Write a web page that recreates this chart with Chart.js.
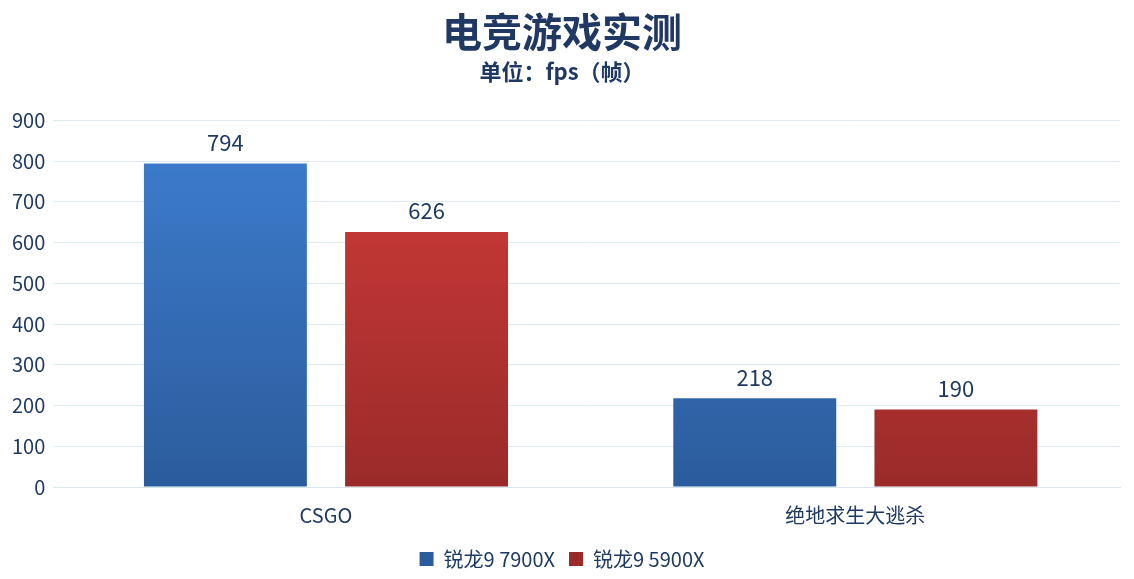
<!DOCTYPE html>
<html>
<head>
<meta charset="utf-8">
<script src="https://cdn.jsdelivr.net/npm/chart.js@4.4.0/dist/chart.umd.min.js"></script>
<style>
  html, body { margin: 0; padding: 0; background: #fff; }
  #wrap { width: 1134px; height: 579px; }
</style>
</head>
<body>
<div id="wrap"><canvas id="grafica"></canvas></div>
<script>
const categorias = ["CSGO", "绝地求生大逃杀"];
const series = ["锐龙9 7900X", "锐龙9 5900X"];
const valores7900 = [794, 218];
const valores5900 = [626, 190];

const fuente = "'Noto Sans CJK SC', 'Noto Sans', sans-serif";
const azulOscuro = "#1F3864";

function degradado(ctx, arriba, abajo) {
    const area = ctx.chart.chartArea;
    if (!area) return arriba;
    const g = ctx.chart.ctx.createLinearGradient(0, area.top, 0, area.bottom);
    g.addColorStop(0, arriba);
    g.addColorStop(1, abajo);
    return g;
}

const etiquetas = {
    id: "etiquetas",
    afterDatasetsDraw(chart) {
        const c = chart.ctx;
        c.save();
        c.font = "22px " + fuente;
        c.fillStyle = "#1F3A60";
        c.textAlign = "center";
        c.textBaseline = "bottom";
        chart.data.datasets.forEach((ds, i) => {
            chart.getDatasetMeta(i).data.forEach((bar, j) => {
                c.fillText(ds.data[j], bar.x, bar.y - 10);
            });
        });
        c.restore();
    }
};

new Chart(document.getElementById("grafica"), {
    type: "bar",
    data: {
        labels: categorias,
        datasets: [{
            label: series[0],
            data: valores7900,
            backgroundColor: ctx => degradado(ctx, "#3E7ED0", "#2B5C9C")
        }, {
            label: series[1],
            data: valores5900,
            backgroundColor: ctx => degradado(ctx, "#D23C3A", "#9A2B29")
        }]
    },
    options: {
        responsive: true,
        maintainAspectRatio: false,
        animation: false,
        datasets: { bar: { categoryPercentage: 0.76, barPercentage: 0.81 } },
        layout: { padding: { left: 4, right: 14, top: 0, bottom: 0 } },
        plugins: {
            title: {
                display: true,
                text: "电竞游戏实测",
                color: azulOscuro,
                font: { family: fuente, size: 40, weight: "bold" },
                padding: { top: 8, bottom: 0 }
            },
            subtitle: {
                display: true,
                text: "单位：fps（帧）",
                color: azulOscuro,
                font: { family: fuente, size: 22, weight: "bold" },
                padding: { top: 2, bottom: 36 }
            },
            legend: {
                position: "bottom",
                labels: {
                    color: "#1F3A60",
                    font: { family: fuente, size: 20 },
                    boxWidth: 14, boxHeight: 14, padding: 14
                }
            },
            tooltip: { enabled: false }
        },
        scales: {
            x: {
                grid: { display: false },
                border: { color: "#d8e6ee" },
                ticks: { color: "#1F3A60", font: { family: fuente, size: 20 }, padding: 8 }
            },
            y: {
                min: 0, max: 900,
                ticks: { stepSize: 100, color: "#1F3A60", font: { family: fuente, size: 20 }, padding: 8 },
                grid: { color: "#dcecf2" },
                border: { display: false }
            }
        }
    },
    plugins: [etiquetas]
});
</script>
</body>
</html>
